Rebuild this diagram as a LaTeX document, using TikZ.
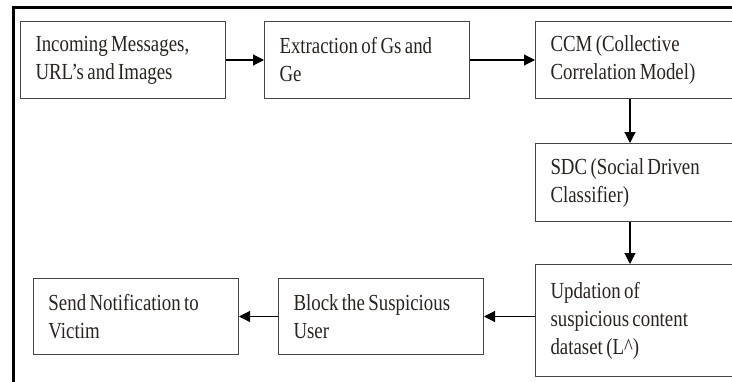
\documentclass[tikz,border=0pt]{standalone}
\usepackage{fontspec}
\setmainfont{Liberation Serif}[FakeStretch=0.82]
\usetikzlibrary{arrows.meta}
\definecolor{boxline}{HTML}{444444}
\definecolor{txt}{HTML}{2A2420}
\tikzset{
  stepbox/.style={draw=boxline, line width=1pt, anchor=north west, inner xsep=15pt, inner ysep=0pt,
    text width=175pt, align=left, minimum height=#1, text=txt, font=\fontsize{23}{28}\selectfont,
    execute at begin node={\spaceskip=3.4pt plus 1pt minus 0.5pt\relax}},
  flow/.style={draw=black, line width=1.1pt, -{Triangle[length=11pt,width=11pt]}}
}
\begin{document}
\begin{tikzpicture}[x=1pt,y=-1pt]
\useasboundingbox (0,0) rectangle (732,381);
\clip (0,0) rectangle (732,381);
\fill[white] (0,0) rectangle (732,381);
% outer frame
\draw[line width=2.5pt] (13.5,420) -- (13.5,7.5) -- (760,7.5);
% boxes
\node[stepbox=77pt] (b1) at (20,21) {Incoming Messages,\\URL’s and Images};
\node[stepbox=77pt] (b2) at (264,21) {Extraction of Gs and\\Ge};
\node[stepbox=77pt] (b3) at (535,21) {CCM (Collective\\Correlation Model)};
\node[stepbox=78pt] (b4) at (535,143) {SDC (Social Driven\\Classifier)};
\node[stepbox=112pt] (b5) at (535,264) {Updation of\\suspicious content\\dataset (L\textasciicircum)};
\node[stepbox=76pt] (b6) at (278,278) {Block the Suspicious\\User};
\node[stepbox=76pt] (b7) at (33,278) {Send Notification to\\Victim};
% connectors
\draw[flow] (b1.east) -- (b2.west);
\draw[flow] (b2.east) -- (b3.west);
\draw[flow] ([xshift=95pt]b3.south west) -- ([xshift=95pt]b4.north west);
\draw[flow] ([xshift=95pt]b4.south west) -- ([xshift=95pt]b5.north west);
\draw[flow] (b5.west |- b6.east) -- (b6.east);
\draw[flow] (b6.west) -- (b7.east);
\end{tikzpicture}
\end{document}
